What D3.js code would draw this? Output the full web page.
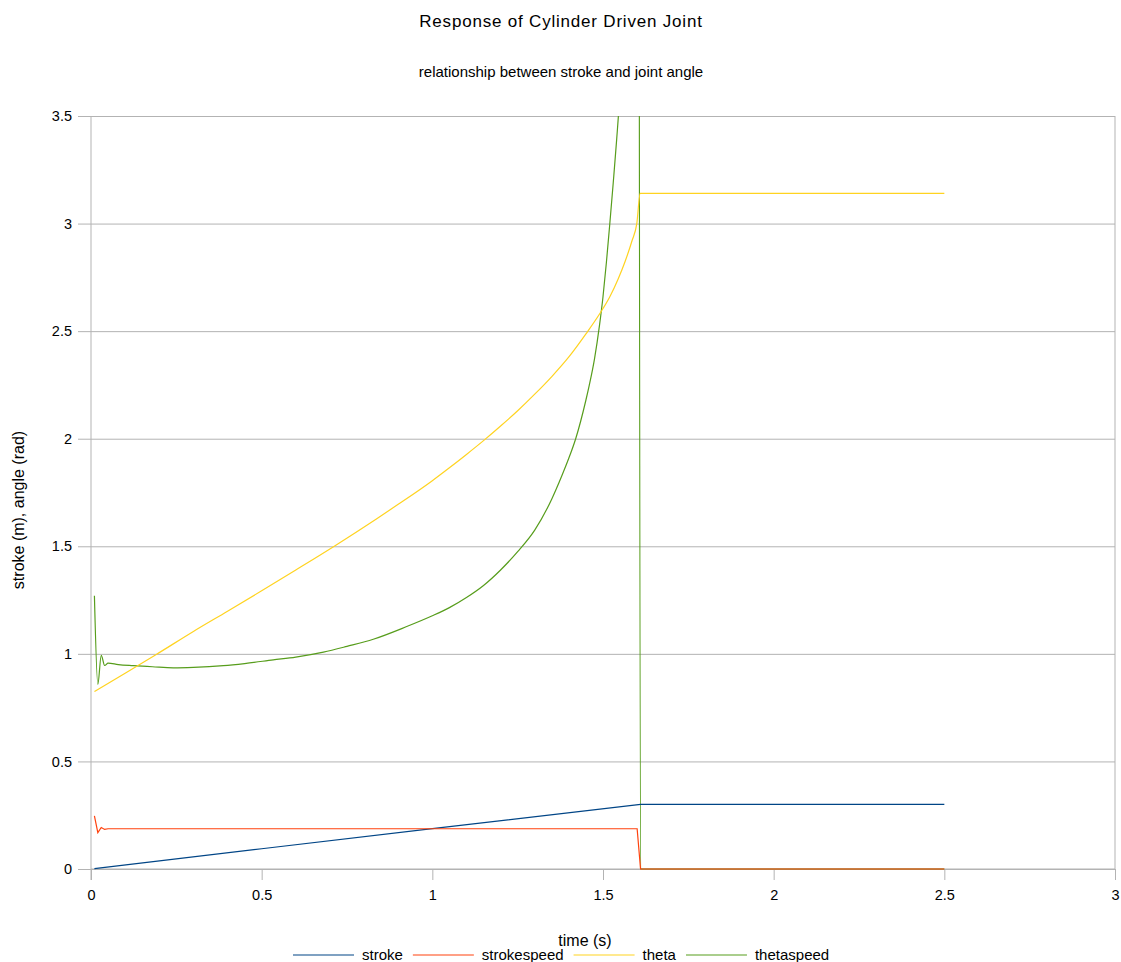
<!DOCTYPE html>
<html>
<head>
<meta charset="utf-8">
<script src="https://cdn.jsdelivr.net/npm/d3@7"></script>
<style>
  body { margin: 0; background: #fff; }
  svg { display: block; font-family: "Liberation Sans", Arial, sans-serif; }
</style>
</head>
<body>
<div id="chart"></div>
<script>
// data: [time (s), value]
const seriesNames = ["stroke", "strokespeed", "theta", "thetaspeed"];
const seriesColors = ["#004586", "#ff420e", "#ffd320", "#579d1c"];

const stroke = [[0.01, 0.002], [0.5, 0.094], [1.0, 0.188], [1.61, 0.3], [2.5, 0.3]];

const strokespeed = [[0.01, 0.247], [0.02, 0.169], [0.03, 0.193], [0.04, 0.184], [0.05, 0.187],
  [1.6, 0.187], [1.61, 0], [2.5, 0]];

const theta = [[0.01, 0.825], [0.1, 0.91], [0.19, 0.996], [0.3, 1.104], [0.4, 1.198], [0.5, 1.293],
  [0.6, 1.39], [0.715, 1.503], [0.835, 1.626], [0.9, 1.695], [1.0, 1.805], [1.05, 1.865], [1.1, 1.927],
  [1.15, 1.991], [1.2, 2.059], [1.25, 2.13], [1.3, 2.207], [1.35, 2.289], [1.4, 2.38], [1.45, 2.487],
  [1.5, 2.605], [1.52, 2.66], [1.545, 2.745], [1.565, 2.825], [1.585, 2.92], [1.599, 3.0], [1.609, 3.14],
  [2.5, 3.14]];

const thetaspeed = [[0.01, 1.27], [0.02, 0.858], [0.03, 0.993], [0.04, 0.946], [0.05, 0.957], [0.08, 0.95],
  [0.124, 0.945], [0.18, 0.94], [0.241, 0.935], [0.3, 0.937], [0.388, 0.945], [0.45, 0.955], [0.534, 0.972],
  [0.6, 0.985], [0.681, 1.008], [0.75, 1.035], [0.827, 1.068], [0.925, 1.127], [1.0, 1.177], [1.05, 1.215],
  [1.1, 1.262], [1.15, 1.318], [1.2, 1.39], [1.25, 1.475], [1.3, 1.575], [1.35, 1.72], [1.38, 1.83],
  [1.4, 1.91], [1.42, 2.0], [1.45, 2.18], [1.46, 2.25], [1.475, 2.37], [1.49, 2.53], [1.5, 2.66],
  [1.51, 2.82], [1.52, 3.0], [1.53, 3.19], [1.54, 3.39], [1.55, 3.62], [1.56, 3.95], [1.57, 4.45],
  [1.58, 5.3], [1.59, 7.2], [1.6, 12], [1.61, 0], [2.5, 0]];

const xTicks = [0, 0.5, 1, 1.5, 2, 2.5, 3];
const yTicks = [0, 0.5, 1, 1.5, 2, 2.5, 3, 3.5];

const W = 1121, H = 962;
const margin = { top: 116, right: 6, bottom: 93, left: 91 },
    width = W - margin.left - margin.right,
    height = H - margin.top - margin.bottom;

const svg = d3.select("#chart").append("svg")
    .attr("width", W)
    .attr("height", H);

svg.append("text")
    .attr("x", 561).attr("y", 27)
    .attr("text-anchor", "middle")
    .style("font-size", "17px")
    .style("letter-spacing", "0.8px")
    .text("Response of Cylinder Driven Joint");

svg.append("text")
    .attr("x", 561).attr("y", 77)
    .attr("text-anchor", "middle")
    .style("font-size", "15px")
    .text("relationship between stroke and joint angle");

const g = svg.append("g")
    .attr("transform", `translate(${margin.left},${margin.top})`);

const x = d3.scaleLinear().domain([0, 3]).range([0, width]);
const y = d3.scaleLinear().domain([0, 3.5]).range([height, 0]);

// horizontal gridlines
g.append("g")
    .attr("class", "grid")
    .call(d3.axisLeft(y).tickValues(yTicks).tickSize(-width).tickFormat(""))
    .call(s => s.select(".domain").remove())
    .selectAll("line").attr("stroke", "#b3b3b3");

// right frame
g.append("line")
    .attr("x1", width).attr("x2", width)
    .attr("y1", 0).attr("y2", height)
    .attr("stroke", "#b3b3b3");

const yAxis = g.append("g")
    .call(d3.axisLeft(y).tickValues(yTicks).tickSize(13).tickPadding(6).tickFormat(d => String(d)));
yAxis.select(".domain").attr("stroke", "#b3b3b3").attr("d", `M0,${height + 11}V0`);
yAxis.selectAll("line").attr("stroke", "#b3b3b3");
yAxis.selectAll("text").style("font-size", "14.5px").attr("fill", "#000");

const xAxis = g.append("g")
    .attr("transform", `translate(0,${height})`)
    .call(d3.axisBottom(x).tickValues(xTicks).tickSize(11).tickPadding(10).tickFormat(d => String(d)));
xAxis.select(".domain").attr("stroke", "#b3b3b3").attr("d", `M0,0H${width}`);
xAxis.selectAll("line").attr("stroke", "#b3b3b3");
xAxis.selectAll("text").style("font-size", "14.5px").attr("fill", "#000");

svg.append("text")
    .attr("transform", "rotate(-90)")
    .attr("x", -510).attr("y", 24)
    .attr("text-anchor", "middle")
    .style("font-size", "16px")
    .text("stroke (m), angle (rad)");

svg.append("text")
    .attr("x", 585).attr("y", 946)
    .attr("text-anchor", "middle")
    .style("font-size", "16px")
    .text("time (s)");

g.append("clipPath").attr("id", "plot-clip")
    .append("rect")
    .attr("x", 0).attr("y", 0)
    .attr("width", width).attr("height", height + 1);

const straight = d3.line()
    .x(d => x(d[0]))
    .y(d => y(d[1]));

const smooth = d3.line()
    .x(d => x(d[0]))
    .y(d => y(d[1]))
    .curve(d3.curveMonotoneX);

// stroke values are straight segments, the angle curves are smooth
const allSeries = [
    { data: stroke, line: straight },
    { data: strokespeed, line: straight },
    { data: theta, line: smooth },
    { data: thetaspeed, line: smooth }
];
// later series first, so the orange zero line ends up on top
const order = [3, 2, 0, 1];

g.append("g")
    .attr("clip-path", "url(#plot-clip)")
    .selectAll("path")
    .data(order)
    .enter()
    .append("path")
    .attr("d", i => allSeries[i].line(allSeries[i].data))
    .attr("fill", "none")
    .attr("stroke", i => seriesColors[i])
    .attr("stroke-width", 1.2);

// legend
const legend = svg.append("g");
let lx = 293;
const ly = 955;
seriesNames.forEach((name, i) => {
    legend.append("line")
        .attr("x1", lx).attr("x2", lx + 61)
        .attr("y1", ly).attr("y2", ly)
        .attr("stroke", seriesColors[i])
        .attr("stroke-width", 1.2);
    const t = legend.append("text")
        .attr("x", lx + 69).attr("y", ly + 5)
        .style("font-size", "15px")
        .text(name);
    lx += 69 + t.node().getComputedTextLength() + 10;
});
</script>
</body>
</html>
